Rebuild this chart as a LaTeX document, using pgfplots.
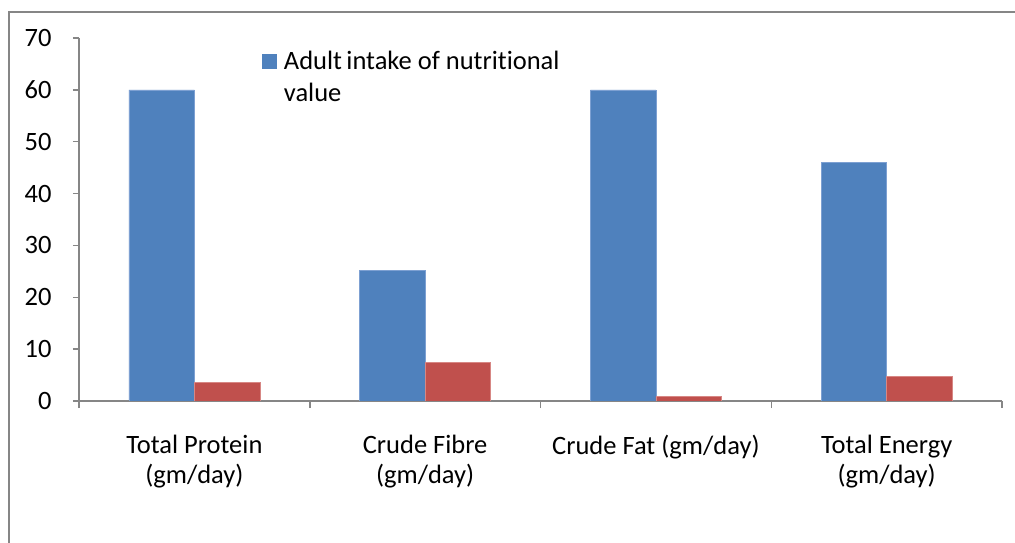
\documentclass[border=0pt]{standalone}
\usepackage{fontspec}
\setmainfont{Carlito}[Ligatures=NoCommon]
\usepackage{pgfplots}
\pgfplotsset{compat=1.18}
\definecolor{c1}{RGB}{79,129,189}
\definecolor{c2}{RGB}{192,80,77}
\definecolor{e1}{RGB}{125,160,210}
\definecolor{e2}{RGB}{215,135,132}
\definecolor{axgray}{RGB}{134,134,134}
\begin{document}
\begin{tikzpicture}
\useasboundingbox (0,0) rectangle (1015bp,543bp);
\draw[axgray, line width=1.8bp] (9bp,0) -- (9bp,531bp) -- (1015bp,531bp);
\begin{axis}[
  at={(79bp,142bp)}, anchor=south west,
  scale only axis, width=923bp, height=363bp,
  xmin=-0.5, xmax=3.5, ymin=0, ymax=70,
  axis x line=bottom, axis y line=left,
  axis line style={-, axgray, line width=1.5bp},
  tick style={axgray, line width=1.5bp},
  tick align=outside,
  major tick length=6bp,
  minor tick length=7bp,
  ytick={0,10,...,70},
  xtick={0,1,2,3},
  xticklabels={Total Protein\\(gm/day), Crude Fibre\\(gm/day), Crude Fat (gm/day), Total Energy\\(gm/day)},
  minor xtick={-0.5,0.5,1.5,2.5,3.5},
  major x tick style={draw=none},
  /pgf/number format/assume math mode=true,
  every tick label/.append style={font=\fontsize{26.5bp}{29.5bp}\selectfont, text=black},
  xticklabel style={align=center, anchor=north, yshift=-25bp},
  yticklabel style={xshift=-18bp},
  legend style={at={(0.198,0.969)}, anchor=north west, draw=none, fill=none,
    inner sep=0pt, font=\fontsize{26.5bp}{32bp}\selectfont, cells={anchor=west}},
  legend image code/.code={\fill[#1, draw=none] (0bp,-8bp) rectangle (15bp,7bp); \path[draw=none, fill=none] (0bp,0bp) -- (20bp,0bp);},
]
\addplot[ybar, bar width=65.5bp, bar shift=-32.75bp, fill=c1, draw=e1, line width=0.6bp]
  coordinates {(0,60) (1,25.2) (2,60) (3,46)};
\addlegendentry{\parbox[t]{300bp}{Adult\,intake of nutritional\\value}}
\addplot[ybar, bar width=65.5bp, bar shift=32.75bp, fill=c2, draw=e2, line width=0.6bp]
  coordinates {(0,3.6) (1,7.4) (2,0.9) (3,4.7)};
\end{axis}
\end{tikzpicture}
\end{document}
